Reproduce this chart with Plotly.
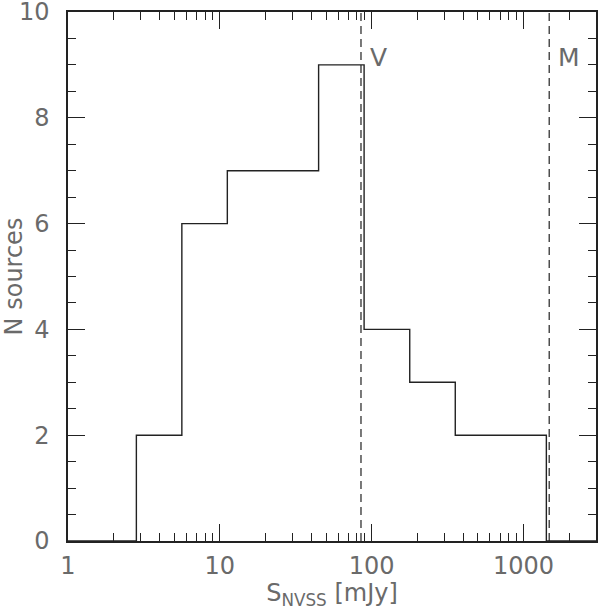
import math
import plotly.graph_objects as go

# Histogram bin edges (mJy) and counts
bin_edges = [1, 2.82, 5.62, 11.2, 22.4, 44.7, 89.1, 178, 355, 708, 1413, 3000]
counts = [0, 2, 6, 7, 7, 9, 4, 3, 2, 2, 0]

# Reference flux limits
ref_names = ["V", "M"]
ref_flux = [85, 1475]

x_tickvals = [1, 10, 100, 1000]
x_ticktext = ["1", "10", "100", "1000"]
y_tickvals = [0, 2, 4, 6, 8, 10]
y_ticktext = ["\u00a00", "\u00a02", "\u00a04", "\u00a06", "\u00a08", "\u00a010"]

FONT = "DejaVu Sans ExtraLight, DejaVu Sans, sans-serif"
TXT = "#6a6a6a"
LINE = "#222222"

fig = go.Figure()

fig.add_trace(go.Scatter(
    x=bin_edges, y=counts + [counts[-1]], mode="lines",
    line=dict(shape="hv", color=LINE, width=1.4), showlegend=False,
    hoverinfo="skip"))

for name, f in zip(ref_names, ref_flux):
    fig.add_trace(go.Scatter(
        x=[f, f], y=[0, 10], mode="lines",
        line=dict(color=LINE, width=1.2, dash="8px,5px"),
        showlegend=False, hoverinfo="skip"))
    fig.add_annotation(x=math.log10(f), y=9, xref="x", yref="y", text=name,
                       showarrow=False, xanchor="left", yanchor="bottom",
                       xshift=7, yshift=-9,
                       font=dict(family=FONT, size=25, color=TXT))

fig.update_layout(
    width=600, height=610,
    margin=dict(l=68, r=4, t=12, b=69),
    plot_bgcolor="white", paper_bgcolor="white",
    font=dict(family=FONT, size=24, color=TXT),
)

fig.update_xaxes(
    type="log", range=[0, 3.477], automargin=False,
    tickvals=x_tickvals, ticktext=x_ticktext,
    ticks="inside", ticklen=17, tickwidth=1.2, tickcolor=LINE,
    minor=dict(ticks="inside", ticklen=8, tickwidth=1.2, tickcolor=LINE,
               dtick="D1", showgrid=False),
    showline=True, linecolor=LINE, linewidth=1.5, mirror="allticks",
    showgrid=False, zeroline=False,
    ticklabelstandoff=2, ticklabeloverflow="allow",
    tickfont=dict(family=FONT, size=24, color=TXT),
    title=dict(text="S<sub>NVSS</sub> [mJy]", standoff=4,
               font=dict(family=FONT, size=24, color=TXT)),
)

fig.update_yaxes(
    range=[0, 10], tickvals=y_tickvals, ticktext=y_ticktext,
    automargin=False,
    ticks="inside", ticklen=17, tickwidth=1.2, tickcolor=LINE,
    minor=dict(ticks="inside", ticklen=8, tickwidth=1.2, tickcolor=LINE,
               dtick=0.5, showgrid=False),
    showline=True, linecolor=LINE, linewidth=1.5, mirror="allticks",
    showgrid=False, zeroline=False,
    ticklabelstandoff=12, ticklabeloverflow="allow",
    tickfont=dict(family=FONT, size=24, color=TXT),
    title=dict(text="N sources", standoff=0,
               font=dict(family=FONT, size=24, color=TXT)),
)

fig.write_html("out.html", config={"displayModeBar": False},
               post_script="document.body.style.margin='0';")
